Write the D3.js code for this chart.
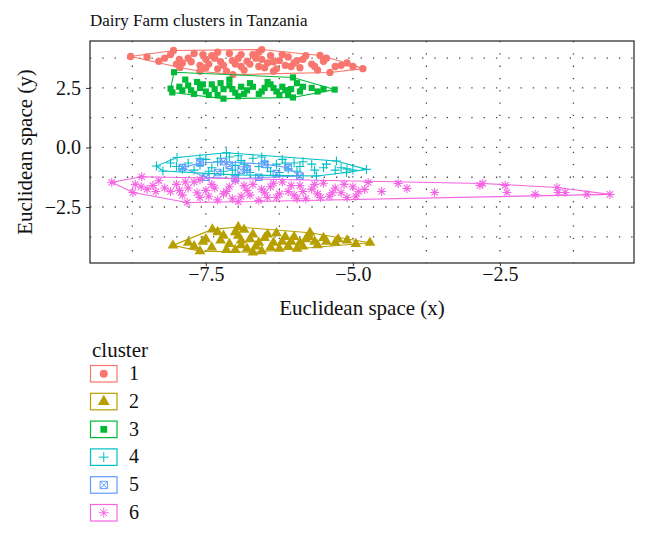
<!DOCTYPE html>
<html lang="en">
<head>
<meta charset="UTF-8">
<title>Dairy Farm clusters in Tanzania</title>
<script src="https://cdn.jsdelivr.net/npm/d3@7"></script>
<style>
  body { margin: 0; background: #fff; }
  svg text { font-family: "Liberation Serif", "DejaVu Serif", serif; fill: #111; }
  .grid line { stroke: #444; stroke-width: 1.3; stroke-dasharray: 1.3 11; }
  .hull { fill: none; stroke-width: 1.1; }
</style>
</head>
<body>
<div id="chart"></div>
<script>

// cluster names and colours (ggplot hue palette)
var clusters = ["1", "2", "3", "4", "5", "6"];
var colors = ["#F8766D", "#B79F00", "#00BA38", "#00BFC4", "#619CFF", "#F564E3"];
var xTicks = [-7.5, -5.0, -2.5];
var yTicks = [2.5, 0.0, -2.5];

// points, [x, y] in euclidean space
var c1 = [[-8.78,3.82],[-8.05,4.07],[-6.55,4.11],[-5.56,3.86],[-4.83,3.31],[-5.39,3.15],[-7.04,3.06],[-7.94,3.36],
  [-8.5,3.80],[-8.3,3.62],[-8.1,3.90],[-7.9,3.55],[-7.8,3.75],[-7.7,3.95],[-7.6,3.45],[-7.5,3.70],[-7.4,3.85],
  [-7.3,3.30],[-7.25,3.60],[-7.1,3.95],[-7.0,3.50],[-6.95,3.75],[-6.85,3.25],[-6.8,3.62],[-6.7,3.90],[-6.6,3.40],
  [-6.55,3.70],[-6.45,3.55],[-6.4,3.85],[-6.3,3.30],[-6.25,3.65],[-6.15,3.45],[-6.1,3.80],[-6.0,3.55],[-5.9,3.35],
  [-5.85,3.70],[-5.7,3.50],[-5.6,3.25],[-5.5,3.62],[-5.3,3.40],[-5.1,3.55],[-6.9,3.40],[-7.15,3.20],[-6.35,3.20],[-7.6,3.20],
  [-8.2,3.75],[-7.95,3.70],[-7.75,3.60],[-7.55,3.90],[-7.45,3.50],[-7.35,3.75],[-7.2,3.45],[-7.05,3.65],[-6.9,3.90],
  [-6.75,3.50],[-6.65,3.75],[-6.5,3.35],[-6.35,3.60],[-6.2,3.90],[-6.05,3.40],[-5.95,3.65],[-5.8,3.85],[-5.65,3.40],
  [-5.45,3.75],[-5.2,3.45],[-5.0,3.40],[-7.5,3.35],[-6.6,4.0],[-7.3,4.0],[-8.0,3.5]];
var c2 = [[-8.06,-4.11],[-7.60,-4.35],[-6.70,-4.40],[-4.71,-4.00],[-5.73,-3.58],[-6.95,-3.34],[-7.39,-3.44],
  [-7.8,-4.0],[-7.5,-3.85],[-7.4,-4.2],[-7.2,-3.7],[-7.1,-4.05],[-7.0,-3.55],[-6.9,-3.9],[-6.8,-4.25],[-6.7,-3.65],
  [-6.6,-4.0],[-6.5,-3.8],[-6.4,-4.2],[-6.3,-3.6],[-6.2,-3.95],[-6.1,-4.15],[-6.0,-3.75],[-5.9,-4.0],[-5.8,-3.85],
  [-5.6,-4.1],[-5.5,-3.8],[-5.3,-4.0],[-5.1,-3.9],[-4.95,-4.05],[-7.3,-3.55],[-6.85,-3.45],[-6.55,-4.35],[-7.0,-4.3],[-5.95,-4.25],
  [-7.7,-4.15],[-7.55,-3.95],[-7.25,-3.9],[-7.15,-4.3],[-6.95,-3.7],[-6.75,-3.85],[-6.65,-4.15],[-6.45,-3.65],[-6.35,-4.0],
  [-6.25,-4.25],[-6.15,-3.75],[-6.05,-3.95],[-5.85,-4.15],[-5.75,-3.75],[-5.45,-3.95],[-5.25,-3.85],[-5.65,-3.95],[-6.9,-4.1]];
var c3 = [[-8.04,3.16],[-6.02,2.94],[-5.31,2.43],[-6.02,2.10],[-8.07,2.31],[-8.10,2.47],[-7.2,2.05],
  [-7.9,2.40],[-7.8,2.60],[-7.7,2.25],[-7.6,2.50],[-7.5,2.35],[-7.4,2.65],[-7.3,2.20],[-7.2,2.45],[-7.1,2.60],
  [-7.0,2.30],[-6.9,2.55],[-6.8,2.40],[-6.75,2.70],[-6.6,2.25],[-6.5,2.50],[-6.4,2.65],[-6.3,2.35],[-6.2,2.55],
  [-6.1,2.20],[-6.05,2.45],[-5.9,2.35],[-5.7,2.50],[-5.5,2.45],[-7.65,2.75],[-6.95,2.15],[-5.95,2.70],
  [-7.95,2.55],[-7.75,2.40],[-7.55,2.65],[-7.45,2.20],[-7.35,2.45],[-7.25,2.70],[-7.05,2.45],[-6.85,2.25],[-6.7,2.55],
  [-6.55,2.35],[-6.45,2.75],[-6.35,2.50],[-6.25,2.20],[-6.15,2.40],[-5.85,2.55],[-5.6,2.35],[-7.85,2.85],[-7.1,2.85]];
var c4 = [[-8.34,-0.78],[-7.15,-0.22],[-7.99,-0.42],[-4.77,-0.92],[-5.62,-1.20],[-8.23,-0.99],[-7.0,-1.15],
  [-5.28,-0.57],[-5.11,-1.05],[-8.0,-0.80],[-7.8,-0.65],[-7.7,-0.95],[-7.5,-0.50],[-7.4,-0.85],[-7.3,-0.60],
  [-7.2,-1.0],[-7.1,-0.40],[-7.0,-0.75],[-6.9,-0.55],[-6.8,-0.95],[-6.7,-0.45],[-6.6,-0.80],[-6.5,-0.60],
  [-6.4,-1.0],[-6.3,-0.70],[-6.2,-0.50],[-6.1,-0.90],[-6.0,-0.65],[-5.9,-0.80],[-5.7,-0.70],[-5.5,-0.85],
  [-5.3,-0.95],[-5.1,-0.90],[-5.0,-0.95],[-5.2,-0.85],
  [-8.1,-0.65],[-7.9,-0.90],[-7.6,-0.75],[-7.45,-1.0],[-7.25,-0.45],[-7.05,-0.95],[-6.95,-0.35],[-6.85,-0.70],
  [-6.75,-1.05],[-6.55,-0.40],[-6.45,-0.85],[-6.25,-1.05],[-6.15,-0.65],[-5.95,-1.0],[-5.85,-0.60],[-5.65,-0.95],
  [-5.45,-0.70],[-7.6,-0.45]];
var c5 = [[-7.9,-0.85],[-7.6,-0.65],[-7.3,-1.05],[-7.2,-0.60],[-7.0,-1.30],[-6.8,-0.90],[-6.6,-1.25],
  [-6.5,-0.70],[-6.3,-1.10],[-6.1,-0.85],[-5.9,-1.20],[-7.5,-1.25],[-6.9,-0.95],[-7.1,-0.75]];
var c6 = [[-9.10,-1.46],[-8.59,-1.23],[-7.82,-2.31],[-8.74,-1.89],[-0.63,-1.97],[-1.53,-1.68],[-2.79,-1.51],
  [-8.7,-1.55],[-8.5,-1.75],[-8.3,-1.40],[-8.1,-1.85],[-8.0,-1.55],[-7.9,-2.0],[-7.8,-1.70],[-7.7,-1.45],
  [-7.6,-2.10],[-7.5,-1.80],[-7.4,-1.55],[-7.3,-2.2],[-7.2,-1.95],[-7.1,-1.65],[-7.0,-1.40],[-6.9,-2.05],
  [-6.8,-1.80],[-6.7,-1.55],[-6.6,-2.22],[-6.5,-1.90],[-6.4,-1.65],[-6.3,-2.10],[-6.2,-1.45],[-6.1,-1.85],
  [-6.0,-2.0],[-5.9,-1.60],[-5.8,-2.15],[-5.7,-1.75],[-5.6,-1.95],[-5.5,-1.50],[-5.4,-2.05],[-5.3,-1.70],
  [-5.2,-1.90],[-5.1,-2.10],[-5.0,-1.65],[-4.9,-1.85],[-6.95,-2.28],[-7.6,-1.35],
  [-8.6,-1.65],[-8.4,-1.60],[-8.2,-1.70],[-7.95,-1.80],[-7.85,-1.45],[-7.65,-1.90],[-7.45,-2.05],[-7.35,-1.70],
  [-7.15,-1.85],[-7.05,-2.15],[-6.85,-1.60],[-6.75,-2.0],[-6.55,-1.75],[-6.45,-2.10],[-6.35,-1.50],[-6.25,-1.95],
  [-6.05,-1.60],[-5.95,-2.15],[-5.85,-1.85],[-5.65,-1.55],[-5.55,-2.10],[-5.35,-1.90],[-5.15,-1.55],[-4.95,-2.05],
  [-8.35,-1.85],
  [-4.74,-1.47],[-4.80,-1.76],[-4.51,-1.85],[-4.23,-1.51],[-4.08,-1.72],[-3.61,-1.89],[-2.84,-1.59],
  [-2.41,-1.59],[-2.38,-1.89],[-1.90,-1.97],[-1.51,-1.89],[-1.39,-1.89],[-1.02,-1.97]];
var points = [c1, c2, c3, c4, c5, c6];

var width = 650, height = 537;
var panel = {left: 90, right: 634, top: 41, bottom: 263};

var svg = d3.select("#chart").append("svg")
    .attr("width", width)
    .attr("height", height);

var x = d3.scaleLinear().domain([-9.47, -0.22]).range([panel.left, panel.right]);
var y = d3.scaleLinear().domain([-4.85, 4.47]).range([panel.bottom, panel.top]);

// shape paths, one per cluster
function shapePath(i, s) {
    s = s || 1;
    switch (i) {
    case 0: return d3.symbol(d3.symbolCircle, 42 * s * s)();
    case 1: return d3.symbol(d3.symbolTriangle, 50 * s * s)();
    case 2: return d3.symbol(d3.symbolSquare, 38 * s * s)();
    case 3: var a = 4.5 * s; return "M" + -a + ",0H" + a + "M0," + -a + "V" + a;
    case 4: var b = 3.3 * s;
        return "M" + -b + "," + -b + "H" + b + "V" + b + "H" + -b + "Z" +
               "M" + -b + "," + -b + "L" + b + "," + b + "M" + b + "," + -b + "L" + -b + "," + b;
    default: var c = 4.5 * s, d = c * 0.7071;
        return "M" + -c + ",0H" + c + "M0," + -c + "V" + c +
               "M" + -d + "," + -d + "L" + d + "," + d + "M" + d + "," + -d + "L" + -d + "," + d;
    }
}
var filled = [true, true, true, false, false, false];

// dotted grid at major and minor breaks
var grid = svg.append("g").attr("class", "grid");
grid.selectAll("line.v").data([-8.75, -7.5, -6.25, -5.0, -3.75, -2.5, -1.25]).enter().append("line")
    .attr("x1", d => x(d)).attr("x2", d => x(d))
    .attr("y1", panel.top).attr("y2", panel.bottom);
grid.selectAll("line.h").data([3.75, 2.5, 1.25, 0, -1.25, -2.5, -3.75]).enter().append("line")
    .attr("x1", panel.left).attr("x2", panel.right)
    .attr("y1", d => y(d)).attr("y2", d => y(d));

// points
points.forEach(function(pts, i) {
    svg.append("g").selectAll("path").data(pts).enter().append("path")
        .attr("transform", d => "translate(" + x(d[0]) + "," + y(d[1]) + ")")
        .attr("d", shapePath(i))
        .attr("fill", filled[i] ? colors[i] : "none")
        .attr("stroke", filled[i] ? "none" : colors[i])
        .attr("stroke-width", 1.1);
});

// convex hulls
points.forEach(function(pts, i) {
    var hull = d3.polygonHull(pts.map(d => [x(d[0]), y(d[1])]));
    svg.append("path")
        .attr("class", "hull")
        .attr("d", "M" + hull.join("L") + "Z")
        .attr("stroke", colors[i]);
});

// panel border
svg.append("rect")
    .attr("x", panel.left).attr("y", panel.top)
    .attr("width", panel.right - panel.left).attr("height", panel.bottom - panel.top)
    .attr("fill", "none").attr("stroke", "#222").attr("stroke-width", 1.2);

var fmt = d3.format(".1f");
var xAxis = svg.append("g")
    .attr("transform", "translate(0," + panel.bottom + ")")
    .call(d3.axisBottom(x).tickValues(xTicks).tickFormat(fmt).tickSize(3).tickPadding(1));
var yAxis = svg.append("g")
    .attr("transform", "translate(" + panel.left + ",0)")
    .call(d3.axisLeft(y).tickValues(yTicks).tickFormat(fmt).tickSize(4).tickPadding(5));
[xAxis, yAxis].forEach(function(ax) {
    ax.select(".domain").remove();
    ax.selectAll(".tick line").attr("stroke", "#333");
    ax.selectAll("text").style("font-size", "20px").attr("fill", "#111");
});

svg.append("text")
    .attr("x", 90).attr("y", 26)
    .style("font-size", "17px")
    .text("Dairy Farm clusters in Tanzania");

svg.append("text")
    .attr("x", (panel.left + panel.right) / 2).attr("y", 315)
    .attr("text-anchor", "middle")
    .style("font-size", "21px")
    .text("Euclidean space (x)");

svg.append("text")
    .attr("transform", "translate(32," + ((panel.top + panel.bottom) / 2) + ") rotate(-90)")
    .attr("text-anchor", "middle")
    .style("font-size", "21px")
    .text("Euclidean space (y)");

// legend
var legend = svg.append("g").attr("transform", "translate(90,0)");
legend.append("text")
    .attr("x", 2).attr("y", 357)
    .style("font-size", "21px")
    .text("cluster");
var keys = legend.selectAll("g.key").data(clusters).enter().append("g")
    .attr("class", "key")
    .attr("transform", (d, i) => "translate(0," + (365 + i * 27.8) + ")");
keys.append("rect")
    .attr("x", 0.5).attr("y", 0.5).attr("width", 26.5).attr("height", 16.5)
    .attr("fill", "#fff")
    .attr("stroke", (d, i) => colors[i]).attr("stroke-width", 1.2);
keys.append("path")
    .attr("transform", "translate(13.75,8.75)")
    .attr("d", (d, i) => shapePath(i, 1.1))
    .attr("fill", (d, i) => filled[i] ? colors[i] : "none")
    .attr("stroke", (d, i) => filled[i] ? "none" : colors[i]);
keys.append("text")
    .attr("x", 39).attr("y", 15)
    .style("font-size", "20px")
    .text(d => d);

</script>
</body>
</html>
